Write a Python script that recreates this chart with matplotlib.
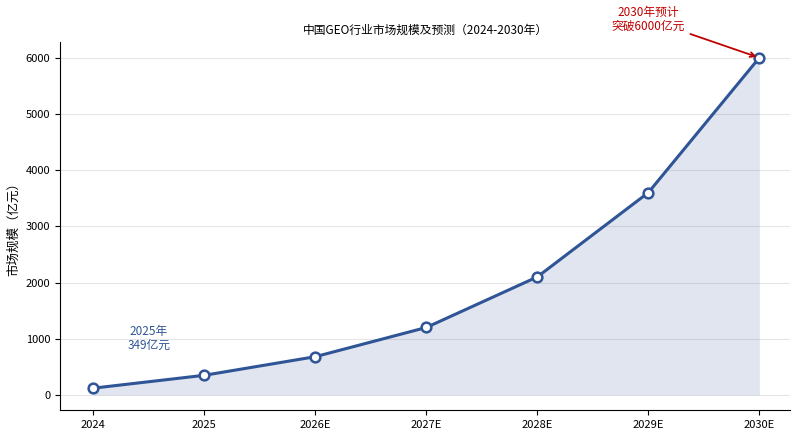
import matplotlib
matplotlib.use("Agg")
import matplotlib.pyplot as plt

plt.rcParams['font.family'] = ['Noto Sans CJK SC', 'DejaVu Sans']

categories = ["2024", "2025", "2026E", "2027E", "2028E", "2029E", "2030E"]
values = [120, 349, 680, 1200, 2100, 3600, 6000]
yticks = [0, 1000, 2000, 3000, 4000, 5000, 6000]

fig = plt.figure(figsize=(8, 4.37), dpi=100)
ax = fig.add_axes([0.075, 0.062, 0.913, 0.842])
x = list(range(len(categories)))
color = "#2f5597"
ax.fill_between(x, values, 0, color=color, alpha=0.15, linewidth=0)
ax.plot(x, values, color=color, linewidth=2.2, marker='o', markersize=7,
        markerfacecolor='white', markeredgecolor=color, markeredgewidth=1.8, zorder=3)
ax.set_xticks(x)
ax.set_xticklabels(categories, fontsize=8)
ax.set_yticks(yticks)
ax.tick_params(axis='y', labelsize=8)
ax.set_xlim(-0.3, 6.28)
ax.set_ylim(-267, 6281)
ax.grid(axis='y', color='#e6e6e6', linewidth=0.8)
ax.set_axisbelow(True)
for s in ['top', 'right']:
    ax.spines[s].set_visible(False)
ax.set_ylabel("市场规模（亿元）", fontsize=9)
ax.set_title("中国GEO行业市场规模及预测（2024-2030年）", fontsize=8.5, pad=6)
ax.text(0.5, 1000, "2025年\n349亿元", color=color, fontsize=8.5, ha='center', va='center', linespacing=1.1)
ax.annotate("2030年预计\n突破6000亿元", xy=(6, 6000), xytext=(5.0, 6680),
            color='#c00000', fontsize=8.5, ha='center', va='center', linespacing=1.1,
            annotation_clip=False,
            arrowprops=dict(arrowstyle='->', color='#c00000', lw=1.3))
fig.savefig("out.png", dpi=100)
